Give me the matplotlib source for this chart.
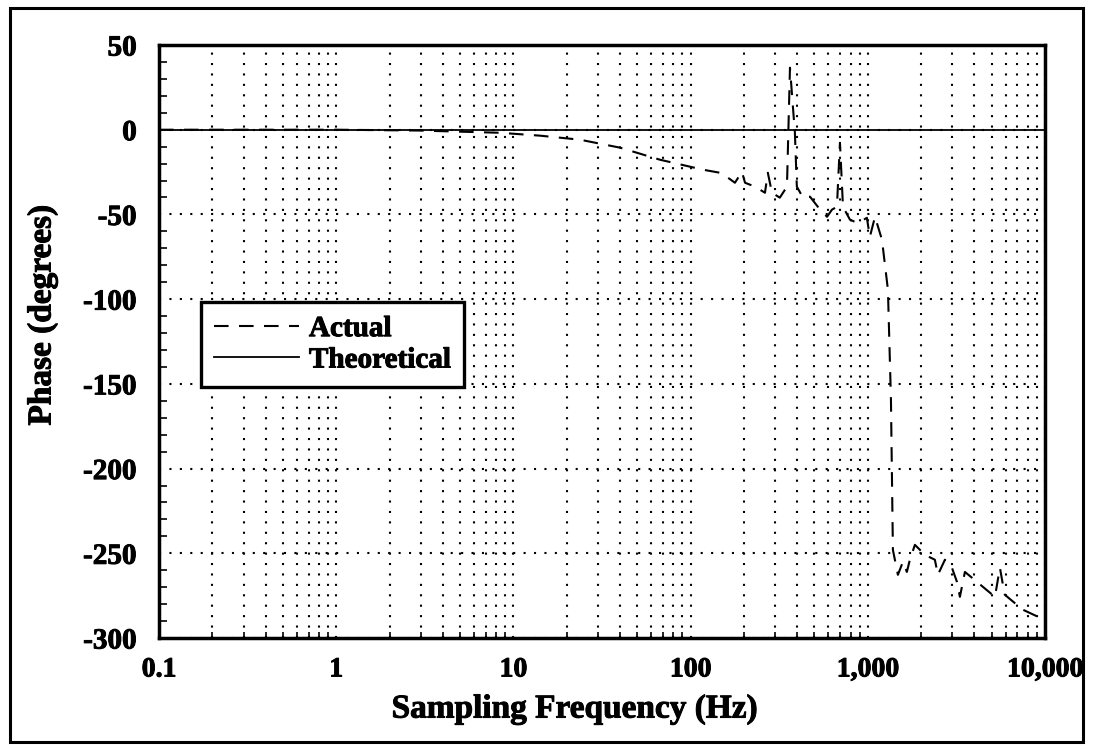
import numpy as np
import matplotlib
matplotlib.use("Agg")
import matplotlib.pyplot as plt
import matplotlib.ticker as mticker
import matplotlib.patheffects as pe
from matplotlib.patches import Rectangle

# values
freq_hz = [0.1, 0.326, 1.02, 2.97, 8.4, 14.1, 23.8, 40, 67.2, 117.5, 146.6, 162.5,
           178, 195, 203, 231, 263, 273, 288, 319, 350, 364, 388, 398, 431, 472,
           523, 589, 628, 670, 697, 725, 794, 869, 927, 989, 1028, 1099, 1203,
           1300, 1352, 1387, 1480, 1580, 1663, 1729, 1846, 2102, 2393, 2489, 2727,
           2987, 3187, 3313, 3536, 4133, 4467, 5223, 5572, 5795, 5943, 6950, 7516,
           9375]
phase_actual = [0, 0, 0, -0.5, -1.8, -3.5, -5.9, -10.6, -17.7, -23.6, -25.4, -28.3,
                -31.3, -24.8, -31.3, -33.6, -37.2, -25.4, -37.2, -40.1, -33.6, 36.6,
                -1.8, -33.6, -40.1, -39.5, -45.5, -51.4, -47.2, -45.5, -7.7, -45.5,
                -53.1, -54.9, -53.7, -52.0, -63.2, -51.4, -64.9, -94.4, -159, -248,
                -262.7, -255, -261, -253.8, -245, -250.9, -253.8, -262.7, -253.8,
                -258.5, -266.8, -275.7, -261, -266.8, -269.8, -275.7, -258.5, -268.6,
                -274.5, -280.4, -283.3, -288]
theory_freq = [0.1, 10000]
theory_phase = [0, 0]

xticks = [0.1, 1, 10, 100, 1000, 10000]
xtick_labels = ["0.1", "1", "10", "100", "1,000", "10,000"]
yticks = [50, 0, -50, -100, -150, -200, -250, -300]

plt.rcParams['font.family'] = ['Liberation Serif', 'DejaVu Serif']
plt.rcParams['font.weight'] = 'bold'
plt.rcParams['axes.unicode_minus'] = False

heavy = [pe.withStroke(linewidth=0.7, foreground='black')]

fig = plt.figure(figsize=(10.93, 7.5), dpi=100)
ax = fig.add_axes([0.1455, 0.1493, 0.8105, 0.7907])

ax.plot(freq_hz, phase_actual, color='black', linestyle=(0, (7, 5)), linewidth=1.5,
        label='Actual')
ax.plot(theory_freq, theory_phase, color='black', linestyle='-', linewidth=1.3,
        label='Theoretical')

ax.set_xscale('log')
ax.set_xlim(0.1, 10000)
ax.set_ylim(-300, 50)
ax.set_xticks(xticks)
ax.xaxis.set_major_formatter(mticker.FixedFormatter(xtick_labels))
ax.xaxis.set_minor_locator(mticker.LogLocator(base=10, subs=np.arange(2, 10)))
ax.xaxis.set_minor_formatter(mticker.NullFormatter())
ax.set_yticks(yticks)
ax.yaxis.set_minor_locator(mticker.MultipleLocator(10))

ax.grid(which='major', axis='both', color='black', linestyle=(0, (1, 4)), linewidth=1.5)
ax.grid(which='minor', axis='x', color='black', linestyle=(0, (1, 4)), linewidth=1.5)

ax.tick_params(axis='both', which='major', direction='in', length=0, labelsize=21)
ax.tick_params(axis='x', which='major', pad=14, labelsize=20)
ax.tick_params(axis='y', which='major', pad=16)
ax.tick_params(axis='both', which='minor', direction='in', length=6, width=1.2)
ax.tick_params(axis='x', which='minor', length=4)
for lab in ax.get_xticklabels() + ax.get_yticklabels():
    lab.set_fontweight('bold')
    lab.set_path_effects(heavy)

for s in ax.spines.values():
    s.set_linewidth(2.5)

xl = ax.set_xlabel('Sampling Frequency (Hz)', fontsize=24, fontweight='bold', va='center')
ax.xaxis.set_label_coords(0.4695, -0.12)
yl = ax.set_ylabel('Phase (degrees)', fontsize=24, fontweight='bold', va='center')
ax.yaxis.set_label_coords(-0.132, 0.545)
xl.set_path_effects(heavy)
yl.set_path_effects(heavy)

leg = ax.legend(loc='upper left', bbox_to_anchor=(0.0474, 0.5666), fancybox=False,
                framealpha=1, edgecolor='black', handlelength=2.9, handletextpad=0.35,
                prop={'size': 21, 'weight': 'bold'}, borderpad=0.45, labelspacing=0.15,
                borderaxespad=0)
leg.get_frame().set_linewidth(2.4)
for t in leg.get_texts():
    t.set_path_effects(heavy)

fig.patches.append(Rectangle((0.009, 0.011), 0.982, 0.978, transform=fig.transFigure,
                             fill=False, edgecolor='black', linewidth=2.2))

fig.savefig('out.png', dpi=100)
